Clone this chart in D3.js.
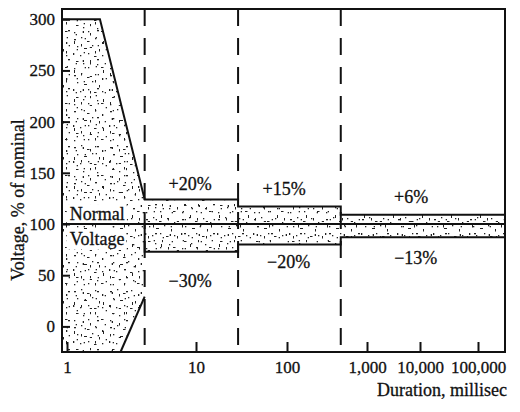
<!DOCTYPE html>
<html>
<head>
<meta charset="utf-8">
<script src="https://cdn.jsdelivr.net/npm/d3@7/dist/d3.min.js"></script>
<style>
  body { margin: 0; background: #fff; }
  svg text { font-family: "Liberation Serif", "Times New Roman", serif; fill: #111; stroke: #111; stroke-width: 0.3px; }
</style>
</head>
<body>
<div id="chart"></div>
<script>
(function() {
  var W = 520, H = 412;

  // x axis ticks (duration, ms)
  var tickMs = [1, 10, 100, 1000, 10000, 100000];
  var tickLabels = ['1', '10', '100', '1,000', '10,000', '100,000'];
  var yTicks = [0, 50, 100, 150, 200, 250, 300];

  // envelope (ms, % of nominal)
  var upperMs  = [0.915, 1.8, 4, 29, 29, 470, 470, 292000];
  var upperPct = [300, 300, 124, 124, 117, 117, 109, 109];
  var lowerMs  = [4, 4, 29, 29, 470, 470, 292000];
  var lowerPct = [100, 73, 73, 80, 80, 87, 87];
  var slantMs  = [2.6, 4];
  var slantPct = [-25, 29];
  var dividerMs = [4, 29, 470];
  var nominalPct = 100;

  var tolText = ['+20%', '+15%', '+6%', '\u221230%', '\u221220%', '\u221213%'];
  var tolMs   = [9, 93, 6800, 9, 105, 8300];
  var tolPct  = [133, 128, 120.5, 38.5, 57, 61];

  var svg = d3.select('#chart').append('svg').attr('width', W).attr('height', H);

  // compressed log axis: each decade gets its own width
  var xs = d3.scaleLinear()
    .domain([Math.log10(0.915), 0, 1, 2, 3, 4, 5, Math.log10(292000)])
    .range([62, 67, 196, 287, 367, 420, 478, 505]);
  var x = function(ms) { return xs(Math.log10(ms)); };
  var y = d3.scaleLinear().domain([-25, 310]).range([352, 9]);

  // stipple texture, two tiles with different periods so it looks less regular
  var dots = [[2,3,2,1.3],[9,1,1.3,1.3],[15,5,2.5,1],[23,2,1.3,1.3],[30,6,1.3,2],[5,10,1.3,1.3],
    [12,12,3,1],[20,9,1.3,1.3],[27,13,1,2.5],[33,11,1.3,1.3],[1,17,1.3,2],[8,19,1.3,1.3],
    [16,17,1.3,1.3],[22,20,2.5,1],[30,19,1.3,1.3],[4,25,2.5,1],[11,27,1.3,1.3],[18,24,1,2.2],
    [25,28,1.3,1.3],[33,25,2,1.3],[2,32,1.3,1.3],[9,33,2.5,1],[16,31,1.3,1.3],[23,34,1.3,1.3],[29,31,2.5,1]];
  var defs = svg.append('defs');
  [['stippleA', 36, 0], ['stippleB', 29, 90]].forEach(function(p) {
    var pat = defs.append('pattern')
      .attr('id', p[0]).attr('patternUnits', 'userSpaceOnUse')
      .attr('width', p[1]).attr('height', p[1])
      .attr('patternTransform', 'rotate(' + p[2] + ')');
    pat.selectAll('rect').data(dots.filter(function(d) { return d[0] < p[1] - 3 && d[1] < p[1] - 3; }))
      .enter().append('rect')
      .attr('x', function(d) { return d[0]; }).attr('y', function(d) { return d[1]; })
      .attr('width', function(d) { return d[2]; }).attr('height', function(d) { return d[3]; })
      .attr('fill', '#222');
  });

  var line = d3.line().x(function(d) { return x(d[0]); }).y(function(d) { return y(d[1]); });
  var upper = d3.zip(upperMs, upperPct);
  var lower = d3.zip(lowerMs, lowerPct);
  var slant = d3.zip(slantMs, slantPct);

  // shaded area: upper edge, then lower edge backwards, then down the slant
  var area = upper.concat(lower.slice(1).reverse())
    .concat(slant.slice().reverse())
    .concat([[upperMs[0], -25]]);
  svg.append('path').attr('d', line(area) + 'Z').attr('fill', 'url(#stippleA)');
  svg.append('path').attr('d', line(area) + 'Z').attr('fill', 'url(#stippleB)');

  // "Normal" / "Voltage" labels on white patches
  var nv = svg.append('g');
  [['Normal', 103.9], ['Voltage', 79.5]].forEach(function(t) {
    var txt = nv.append('text').attr('x', x(1.05)).attr('y', y(t[1]))
      .attr('font-size', 18).text(t[0]);
    var b = txt.node().getBBox();
    nv.insert('rect', 'text').attr('x', b.x - 3).attr('y', b.y).attr('width', b.width + 5)
      .attr('height', b.height).attr('fill', '#fff');
  });

  var ink = svg.append('g').attr('fill', 'none').attr('stroke', '#111').attr('stroke-width', 2);
  ink.append('path').attr('d', line(upper));
  ink.append('path').attr('d', line(lower));
  ink.append('path').attr('d', line(slant));
  ink.append('line').attr('x1', xs.range()[0]).attr('x2', xs.range()[7])
    .attr('y1', y(nominalPct)).attr('y2', y(nominalPct));
  ink.selectAll('.divider').data(dividerMs).enter().append('line')
    .attr('class', 'divider')
    .attr('x1', x).attr('x2', x).attr('y1', y(310)).attr('y2', y(-25))
    .attr('stroke-dasharray', '17,12');
  ink.append('rect').attr('x', 62).attr('y', 9).attr('width', 505 - 62).attr('height', 352 - 9);

  var xAxis = d3.axisBottom(xs)
    .tickValues(tickMs.map(function(d) { return Math.log10(d); }))
    .tickFormat(function(d, i) { return tickLabels[i]; })
    .tickSize(-10).tickPadding(9);
  var yAxis = d3.axisLeft(y).tickValues(yTicks).tickSize(-8).tickPadding(7);

  var gx = svg.append('g').attr('transform', 'translate(0,352)').call(xAxis);
  var gy = svg.append('g').attr('transform', 'translate(62,0)').call(yAxis);
  [gx, gy].forEach(function(g) {
    g.select('.domain').remove();
    g.selectAll('.tick line').attr('stroke', '#111').attr('stroke-width', 2);
    g.selectAll('.tick text').attr('font-size', 17)
      .attr('font-family', '"Liberation Serif", serif').attr('fill', '#111');
  });

  svg.selectAll('.tol').data(tolText).enter().append('text')
    .attr('class', 'tol')
    .attr('x', function(d, i) { return x(tolMs[i]); })
    .attr('y', function(d, i) { return y(tolPct[i]); })
    .attr('text-anchor', 'middle').attr('font-size', 18)
    .text(function(d) { return d; });

  svg.append('text').attr('transform', 'translate(24,200) rotate(-90)')
    .attr('text-anchor', 'middle').attr('font-size', 18)
    .text('Voltage, % of nominal');
  svg.append('text').attr('x', 507).attr('y', 396)
    .attr('text-anchor', 'end').attr('font-size', 18)
    .text('Duration, millisec');
})();
</script>
</body>
</html>
